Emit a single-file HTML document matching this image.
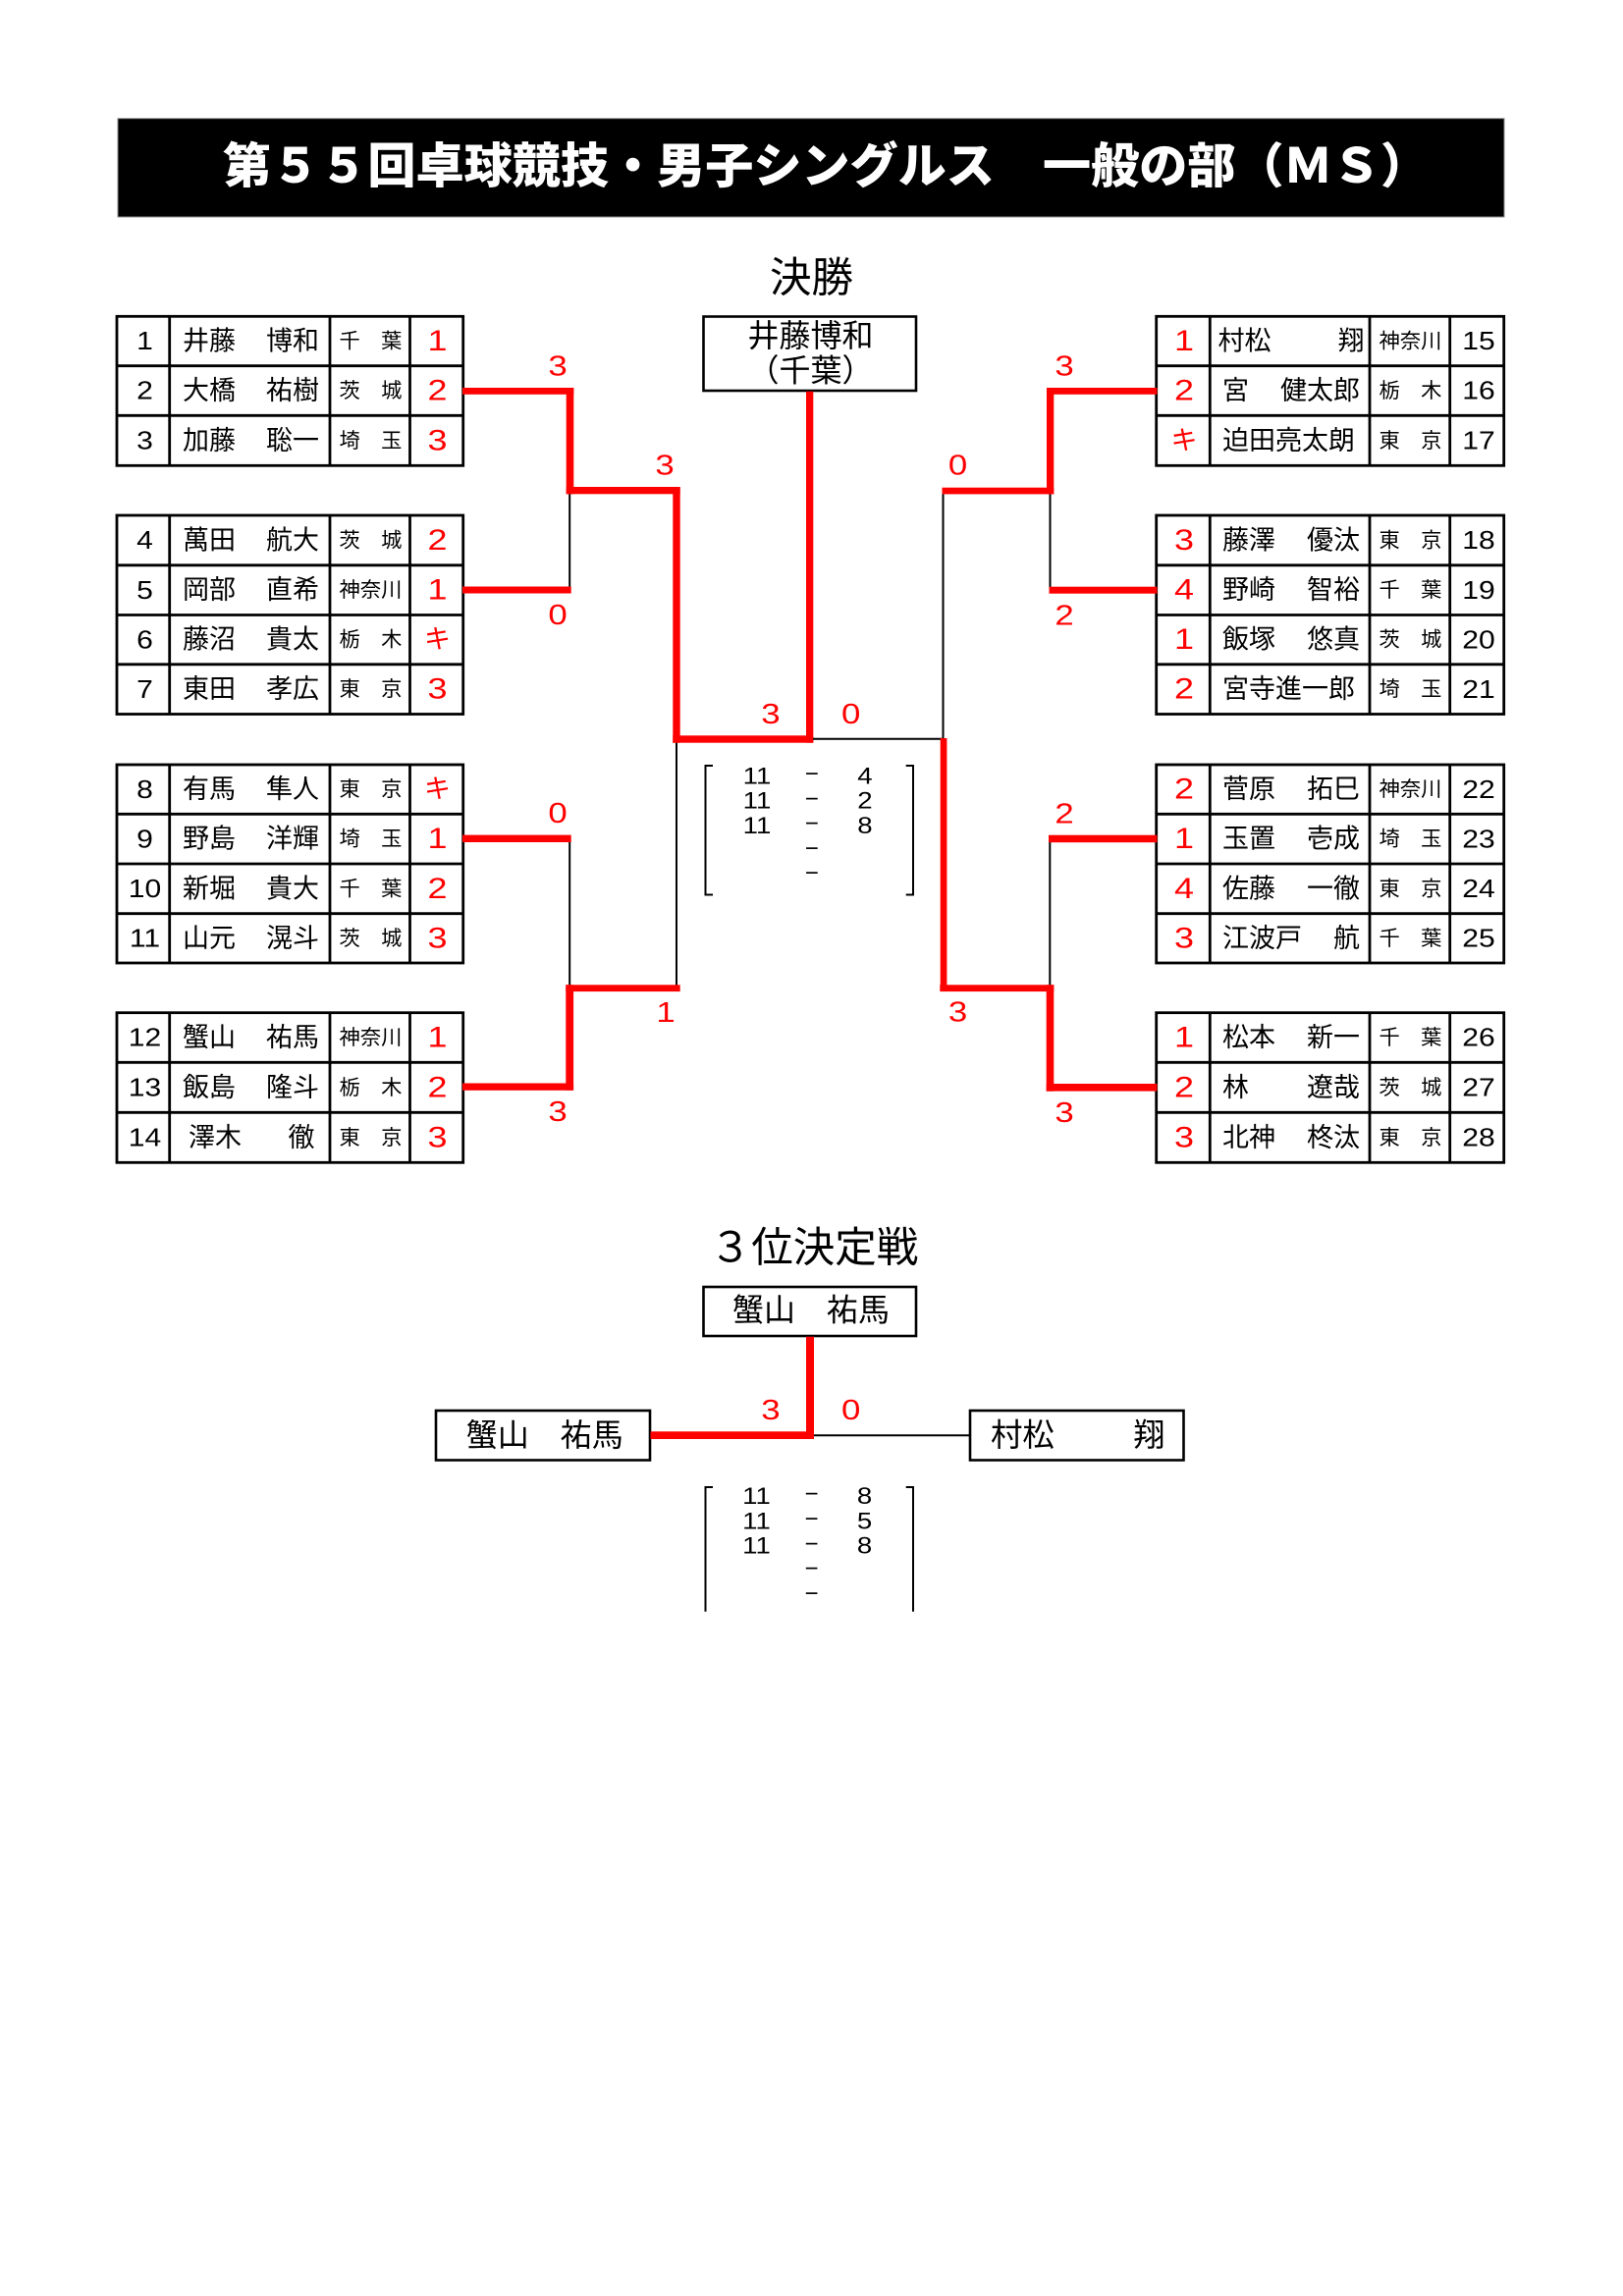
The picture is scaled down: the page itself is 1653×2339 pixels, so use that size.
<!DOCTYPE html>
<html lang="ja">
<head>
<meta charset="utf-8">
<title>第55回卓球競技・男子シングルス 一般の部（MS）</title>
<style>
  html,body{margin:0;padding:0;background:#fff;}
  body{width:1653px;height:2339px;overflow:hidden;}
  svg{display:block;}
  text{dominant-baseline:central;}
  .n{font-family:"Liberation Sans",sans-serif;font-size:25.5px;fill:#000;text-anchor:middle;
     transform-box:fill-box;transform-origin:center;transform:scaleX(1.18);}
  .s{font-family:"Liberation Sans",sans-serif;font-size:30px;fill:#f00;text-anchor:middle;
     transform-box:fill-box;transform-origin:center;transform:scaleX(1.2);}
  .l{font-family:"Liberation Sans",sans-serif;font-size:29px;fill:#f00;text-anchor:middle;
     transform-box:fill-box;transform-origin:center;transform:scaleX(1.2);}
  .k{font-family:"Liberation Sans","Noto Sans CJK JP",sans-serif;font-size:27px;fill:#f00;text-anchor:middle;}
  .nm{font-family:"Liberation Sans","Noto Sans CJK JP",sans-serif;font-size:27px;fill:#000;}
  .e{text-anchor:end;}
  .p{font-family:"Liberation Sans","Noto Sans CJK JP",sans-serif;font-size:21.3px;fill:#000;text-anchor:middle;}
  .bx{font-family:"Liberation Sans","Noto Sans CJK JP",sans-serif;font-size:32px;fill:#000;text-anchor:middle;}
  .bn{font-family:"Liberation Sans","Noto Sans CJK JP",sans-serif;font-size:32.4px;fill:#000;}
  .hd{font-family:"Liberation Sans","Noto Sans CJK JP",sans-serif;font-size:42.5px;fill:#000;text-anchor:middle;}
  .sc{font-family:"Liberation Sans",sans-serif;font-size:24px;fill:#000;text-anchor:middle;
      transform-box:fill-box;transform-origin:center;transform:scaleX(1.15);}
  .ds{font-family:"Liberation Sans",sans-serif;font-size:24px;fill:#000;text-anchor:middle;}
  .title{font-family:"Liberation Sans","Noto Sans CJK JP",sans-serif;font-size:49px;font-weight:900;fill:#fff;}
  .tb{fill:none;stroke:#000;stroke-width:2.8;}
  .r{fill:#f00;}
  .bk{stroke:#000;stroke-width:2;fill:none;}
</style>
</head>
<body>
<svg width="1653" height="2339" viewBox="0 0 1653 2339" xmlns="http://www.w3.org/2000/svg">
  <rect x="0" y="0" width="1653" height="2339" fill="#fff"/>

  <!-- Title bar -->
  <rect x="120" y="120.7" width="1412" height="100.3" fill="#000" stroke="#888" stroke-width="1"/>
  <text class="title" x="227" y="170" textLength="1228" lengthAdjust="spacingAndGlyphs">第５５回卓球競技・男子シングルス　一般の部（ＭＳ）</text>

  <!-- 決勝 heading & box -->
  <text class="hd" x="826.5" y="284">決勝</text>
  <rect x="716.5" y="322.5" width="216.5" height="75.5" fill="#fff" stroke="#000" stroke-width="2.6"/>
  <text class="bx" x="825.5" y="342">井藤博和</text>
  <text class="bx" x="825.5" y="377.5">（千葉）</text>

  <!-- ===== LEFT TABLES ===== -->
  <g class="tb">
    <rect x="119" y="322.3" width="352.7" height="152"/>
    <line x1="119" y1="372.7" x2="471.7" y2="372.7"/>
    <line x1="119" y1="423.3" x2="471.7" y2="423.3"/>
    <line x1="172.7" y1="322.3" x2="172.7" y2="474.3"/>
    <line x1="336" y1="322.3" x2="336" y2="474.3"/>
    <line x1="417.5" y1="322.3" x2="417.5" y2="474.3"/>

    <rect x="119" y="525" width="352.7" height="202.5"/>
    <line x1="119" y1="575.8" x2="471.7" y2="575.8"/>
    <line x1="119" y1="626.5" x2="471.7" y2="626.5"/>
    <line x1="119" y1="676.8" x2="471.7" y2="676.8"/>
    <line x1="172.7" y1="525" x2="172.7" y2="727.5"/>
    <line x1="336" y1="525" x2="336" y2="727.5"/>
    <line x1="417.5" y1="525" x2="417.5" y2="727.5"/>

    <rect x="119" y="779" width="352.7" height="202"/>
    <line x1="119" y1="829.3" x2="471.7" y2="829.3"/>
    <line x1="119" y1="880" x2="471.7" y2="880"/>
    <line x1="119" y1="930.7" x2="471.7" y2="930.7"/>
    <line x1="172.7" y1="779" x2="172.7" y2="981"/>
    <line x1="336" y1="779" x2="336" y2="981"/>
    <line x1="417.5" y1="779" x2="417.5" y2="981"/>

    <rect x="119" y="1031.7" width="352.7" height="152.6"/>
    <line x1="119" y1="1082.3" x2="471.7" y2="1082.3"/>
    <line x1="119" y1="1133.3" x2="471.7" y2="1133.3"/>
    <line x1="172.7" y1="1031.7" x2="172.7" y2="1184.3"/>
    <line x1="336" y1="1031.7" x2="336" y2="1184.3"/>
    <line x1="417.5" y1="1031.7" x2="417.5" y2="1184.3"/>
  </g>

  <!-- ===== RIGHT TABLES ===== -->
  <g class="tb">
    <rect x="1177.7" y="322.3" width="354" height="152"/>
    <line x1="1177.7" y1="372.7" x2="1531.7" y2="372.7"/>
    <line x1="1177.7" y1="423.3" x2="1531.7" y2="423.3"/>
    <line x1="1232.3" y1="322.3" x2="1232.3" y2="474.3"/>
    <line x1="1395" y1="322.3" x2="1395" y2="474.3"/>
    <line x1="1476.7" y1="322.3" x2="1476.7" y2="474.3"/>

    <rect x="1177.7" y="525" width="354" height="202.5"/>
    <line x1="1177.7" y1="575.8" x2="1531.7" y2="575.8"/>
    <line x1="1177.7" y1="626.5" x2="1531.7" y2="626.5"/>
    <line x1="1177.7" y1="676.8" x2="1531.7" y2="676.8"/>
    <line x1="1232.3" y1="525" x2="1232.3" y2="727.5"/>
    <line x1="1395" y1="525" x2="1395" y2="727.5"/>
    <line x1="1476.7" y1="525" x2="1476.7" y2="727.5"/>

    <rect x="1177.7" y="779" width="354" height="202"/>
    <line x1="1177.7" y1="829.3" x2="1531.7" y2="829.3"/>
    <line x1="1177.7" y1="880" x2="1531.7" y2="880"/>
    <line x1="1177.7" y1="930.7" x2="1531.7" y2="930.7"/>
    <line x1="1232.3" y1="779" x2="1232.3" y2="981"/>
    <line x1="1395" y1="779" x2="1395" y2="981"/>
    <line x1="1476.7" y1="779" x2="1476.7" y2="981"/>

    <rect x="1177.7" y="1031.7" width="354" height="152.6"/>
    <line x1="1177.7" y1="1082.3" x2="1531.7" y2="1082.3"/>
    <line x1="1177.7" y1="1133.3" x2="1531.7" y2="1133.3"/>
    <line x1="1232.3" y1="1031.7" x2="1232.3" y2="1184.3"/>
    <line x1="1395" y1="1031.7" x2="1395" y2="1184.3"/>
    <line x1="1476.7" y1="1031.7" x2="1476.7" y2="1184.3"/>
  </g>

  <!-- ===== LEFT TABLE TEXT ===== -->
  <text class="n" x="147.5" y="347.5">1</text><text class="nm" x="186" y="347.5">井藤</text><text class="nm e" x="325" y="347.5">博和</text><text class="p" x="377.5" y="347.5">千　葉</text><text class="s" x="445.5" y="347.5">1</text>
  <text class="n" x="147.5" y="398">2</text><text class="nm" x="186" y="398">大橋</text><text class="nm e" x="325" y="398">祐樹</text><text class="p" x="377.5" y="398">茨　城</text><text class="s" x="445.5" y="398">2</text>
  <text class="n" x="147.5" y="448.8">3</text><text class="nm" x="186" y="448.8">加藤</text><text class="nm e" x="325" y="448.8">聡一</text><text class="p" x="377.5" y="448.8">埼　玉</text><text class="s" x="445.5" y="448.8">3</text>

  <text class="n" x="147.5" y="550.4">4</text><text class="nm" x="186" y="550.4">萬田</text><text class="nm e" x="325" y="550.4">航大</text><text class="p" x="377.5" y="550.4">茨　城</text><text class="s" x="445.5" y="550.4">2</text>
  <text class="n" x="147.5" y="601.2">5</text><text class="nm" x="186" y="601.2">岡部</text><text class="nm e" x="325" y="601.2">直希</text><text class="p" x="377.5" y="601.2">神奈川</text><text class="s" x="445.5" y="601.2">1</text>
  <text class="n" x="147.5" y="651.7">6</text><text class="nm" x="186" y="651.7">藤沼</text><text class="nm e" x="325" y="651.7">貴太</text><text class="p" x="377.5" y="651.7">栃　木</text><text class="k" x="445.5" y="651.7">キ</text>
  <text class="n" x="147.5" y="702.2">7</text><text class="nm" x="186" y="702.2">東田</text><text class="nm e" x="325" y="702.2">孝広</text><text class="p" x="377.5" y="702.2">東　京</text><text class="s" x="445.5" y="702.2">3</text>

  <text class="n" x="147.5" y="804.2">8</text><text class="nm" x="186" y="804.2">有馬</text><text class="nm e" x="325" y="804.2">隼人</text><text class="p" x="377.5" y="804.2">東　京</text><text class="k" x="445.5" y="804.2">キ</text>
  <text class="n" x="147.5" y="854.7">9</text><text class="nm" x="186" y="854.7">野島</text><text class="nm e" x="325" y="854.7">洋輝</text><text class="p" x="377.5" y="854.7">埼　玉</text><text class="s" x="445.5" y="854.7">1</text>
  <text class="n" x="147.5" y="905.3">10</text><text class="nm" x="186" y="905.3">新堀</text><text class="nm e" x="325" y="905.3">貴大</text><text class="p" x="377.5" y="905.3">千　葉</text><text class="s" x="445.5" y="905.3">2</text>
  <text class="n" x="147.5" y="955.8">11</text><text class="nm" x="186" y="955.8">山元</text><text class="nm e" x="325" y="955.8">滉斗</text><text class="p" x="377.5" y="955.8">茨　城</text><text class="s" x="445.5" y="955.8">3</text>

  <text class="n" x="147.5" y="1057">12</text><text class="nm" x="186" y="1057">蟹山</text><text class="nm e" x="325" y="1057">祐馬</text><text class="p" x="377.5" y="1057">神奈川</text><text class="s" x="445.5" y="1057">1</text>
  <text class="n" x="147.5" y="1107.8">13</text><text class="nm" x="186" y="1107.8">飯島</text><text class="nm e" x="325" y="1107.8">隆斗</text><text class="p" x="377.5" y="1107.8">栃　木</text><text class="s" x="445.5" y="1107.8">2</text>
  <text class="n" x="147.5" y="1158.8">14</text><text class="nm" x="192" y="1158.8">澤木</text><text class="nm e" x="320.5" y="1158.8">徹</text><text class="p" x="377.5" y="1158.8">東　京</text><text class="s" x="445.5" y="1158.8">3</text>

  <!-- ===== RIGHT TABLE TEXT ===== -->
  <text class="s" x="1206" y="347.5">1</text><text class="nm" x="1240.5" y="347.5">村松</text><text class="nm e" x="1389.5" y="347.5">翔</text><text class="p" x="1436.5" y="347.5">神奈川</text><text class="n" x="1506" y="347.5">15</text>
  <text class="s" x="1206" y="398">2</text><text class="nm" x="1245" y="398">宮</text><text class="nm e" x="1385" y="398">健太郎</text><text class="p" x="1436.5" y="398">栃　木</text><text class="n" x="1506" y="398">16</text>
  <text class="k" x="1206" y="448.8">キ</text><text class="nm" x="1245" y="448.8">迫田亮太朗</text><text class="p" x="1436.5" y="448.8">東　京</text><text class="n" x="1506" y="448.8">17</text>

  <text class="s" x="1206" y="550.4">3</text><text class="nm" x="1245" y="550.4">藤澤</text><text class="nm e" x="1385" y="550.4">優汰</text><text class="p" x="1436.5" y="550.4">東　京</text><text class="n" x="1506" y="550.4">18</text>
  <text class="s" x="1206" y="601.2">4</text><text class="nm" x="1245" y="601.2">野崎</text><text class="nm e" x="1385" y="601.2">智裕</text><text class="p" x="1436.5" y="601.2">千　葉</text><text class="n" x="1506" y="601.2">19</text>
  <text class="s" x="1206" y="651.7">1</text><text class="nm" x="1245" y="651.7">飯塚</text><text class="nm e" x="1385" y="651.7">悠真</text><text class="p" x="1436.5" y="651.7">茨　城</text><text class="n" x="1506" y="651.7">20</text>
  <text class="s" x="1206" y="702.2">2</text><text class="nm" x="1245" y="702.2">宮寺進一郎</text><text class="p" x="1436.5" y="702.2">埼　玉</text><text class="n" x="1506" y="702.2">21</text>

  <text class="s" x="1206" y="804.2">2</text><text class="nm" x="1245" y="804.2">菅原</text><text class="nm e" x="1385" y="804.2">拓巳</text><text class="p" x="1436.5" y="804.2">神奈川</text><text class="n" x="1506" y="804.2">22</text>
  <text class="s" x="1206" y="854.7">1</text><text class="nm" x="1245" y="854.7">玉置</text><text class="nm e" x="1385" y="854.7">壱成</text><text class="p" x="1436.5" y="854.7">埼　玉</text><text class="n" x="1506" y="854.7">23</text>
  <text class="s" x="1206" y="905.3">4</text><text class="nm" x="1245" y="905.3">佐藤</text><text class="nm e" x="1385" y="905.3">一徹</text><text class="p" x="1436.5" y="905.3">東　京</text><text class="n" x="1506" y="905.3">24</text>
  <text class="s" x="1206" y="955.8">3</text><text class="nm" x="1245" y="955.8">江波戸</text><text class="nm e" x="1385" y="955.8">航</text><text class="p" x="1436.5" y="955.8">千　葉</text><text class="n" x="1506" y="955.8">25</text>

  <text class="s" x="1206" y="1057">1</text><text class="nm" x="1245" y="1057">松本</text><text class="nm e" x="1385" y="1057">新一</text><text class="p" x="1436.5" y="1057">千　葉</text><text class="n" x="1506" y="1057">26</text>
  <text class="s" x="1206" y="1107.8">2</text><text class="nm" x="1245" y="1107.8">林</text><text class="nm e" x="1385" y="1107.8">遼哉</text><text class="p" x="1436.5" y="1107.8">茨　城</text><text class="n" x="1506" y="1107.8">27</text>
  <text class="s" x="1206" y="1158.8">3</text><text class="nm" x="1245" y="1158.8">北神</text><text class="nm e" x="1385" y="1158.8">柊汰</text><text class="p" x="1436.5" y="1158.8">東　京</text><text class="n" x="1506" y="1158.8">28</text>

  <!-- ===== BRACKET LINES LEFT ===== -->
  <line class="bk" x1="580.2" y1="503" x2="580.2" y2="601"/>
  <line class="bk" x1="580.2" y1="854" x2="580.2" y2="1004"/>
  <line class="bk" x1="689" y1="756" x2="689" y2="1004"/>
  <rect class="r" x="471" y="395" width="113.3" height="6.8"/>
  <rect class="r" x="576.7" y="395" width="7.6" height="108.3"/>
  <rect class="r" x="471" y="597.5" width="110.7" height="7"/>
  <rect class="r" x="576.7" y="496" width="116" height="7.3"/>
  <rect class="r" x="685.3" y="496" width="7.4" height="260.7"/>
  <rect class="r" x="685.3" y="749.3" width="143" height="7.4"/>
  <rect class="r" x="821" y="398.7" width="7.3" height="358"/>
  <rect class="r" x="471" y="850.6" width="110.7" height="7.4"/>
  <rect class="r" x="576.3" y="1003.3" width="116.4" height="6.8"/>
  <rect class="r" x="576.3" y="1003.3" width="7.8" height="107.4"/>
  <rect class="r" x="471" y="1103.5" width="113.1" height="7.3"/>

  <!-- ===== BRACKET LINES RIGHT ===== -->
  <line class="bk" x1="828" y1="752.7" x2="961" y2="752.7"/>
  <line class="bk" x1="960.5" y1="503" x2="960.5" y2="753"/>
  <line class="bk" x1="1069.5" y1="503" x2="1069.5" y2="601"/>
  <line class="bk" x1="1069.3" y1="854" x2="1069.3" y2="1004"/>
  <rect class="r" x="957.7" y="752" width="6.7" height="258"/>
  <rect class="r" x="959.5" y="496.7" width="113.8" height="6.7"/>
  <rect class="r" x="1066" y="395" width="7.3" height="108.3"/>
  <rect class="r" x="1066" y="395" width="112.5" height="6.8"/>
  <rect class="r" x="1068.5" y="597.7" width="110" height="7"/>
  <rect class="r" x="1068" y="850.7" width="110.5" height="7.5"/>
  <rect class="r" x="957.3" y="1003.3" width="116" height="6.8"/>
  <rect class="r" x="1065.7" y="1003.3" width="7.6" height="108.4"/>
  <rect class="r" x="1065.7" y="1104" width="112.8" height="7.6"/>

  <!-- ===== BRACKET SCORE LABELS ===== -->
  <text class="l" x="568" y="372.5">3</text>
  <text class="l" x="568" y="626">0</text>
  <text class="l" x="677" y="473.5">3</text>
  <text class="l" x="568" y="828">0</text>
  <text class="l" x="568" y="1132">3</text>
  <text class="l" x="678" y="1031">1</text>
  <text class="l" x="785" y="727">3</text>
  <text class="l" x="866.7" y="727">0</text>

  <text class="l" x="1084" y="372.5">3</text>
  <text class="l" x="1084" y="626.5">2</text>
  <text class="l" x="975.5" y="473.5">0</text>
  <text class="l" x="1084" y="828.5">2</text>
  <text class="l" x="975.5" y="1030.5">3</text>
  <text class="l" x="1084" y="1133">3</text>

  <!-- ===== FINAL GAME SCORES ===== -->
  <polyline class="bk" points="726,780 718.5,780 718.5,911.5 726,911.5"/>
  <polyline class="bk" points="922.7,780 930,780 930,911.5 922.7,911.5"/>
  <text class="sc" x="771" y="791">11</text><text class="ds" x="826.7" y="788.5">−</text><text class="sc" x="881" y="791">4</text>
  <text class="sc" x="771" y="816.3">11</text><text class="ds" x="826.7" y="813.8">−</text><text class="sc" x="881" y="816.3">2</text>
  <text class="sc" x="771" y="841.6">11</text><text class="ds" x="826.7" y="839.1">−</text><text class="sc" x="881" y="841.6">8</text>
  <text class="ds" x="826.7" y="864.4">−</text>
  <text class="ds" x="826.7" y="889.7">−</text>

  <!-- ===== 3rd PLACE ===== -->
  <text class="hd" x="829" y="1272">３位決定戦</text>
  <rect x="716.5" y="1311" width="216.5" height="50" fill="#fff" stroke="#000" stroke-width="2.6"/>
  <text class="bx" x="826" y="1334.5">蟹山　祐馬</text>

  <rect x="444" y="1437" width="218" height="50.5" fill="#fff" stroke="#000" stroke-width="2.6"/>
  <text class="bx" x="554.7" y="1462">蟹山　祐馬</text>

  <rect x="988" y="1437" width="217.5" height="50.5" fill="#fff" stroke="#000" stroke-width="2.6"/>
  <text class="bn" x="1009" y="1462">村松</text>
  <text class="bn e" x="1186.5" y="1462">翔</text>

  <rect class="r" x="662.5" y="1458.3" width="166.5" height="7.7"/>
  <rect class="r" x="821" y="1361.7" width="8" height="104.3"/>
  <line class="bk" x1="829" y1="1462.2" x2="987.5" y2="1462.2"/>
  <text class="l" x="785" y="1436">3</text>
  <text class="l" x="866.7" y="1436">0</text>

  <polyline class="bk" points="726,1515 718.5,1515 718.5,1641.7"/>
  <polyline class="bk" points="922.7,1515 930,1515 930,1641.7"/>
  <text class="sc" x="770.5" y="1524.5">11</text><text class="ds" x="826.5" y="1522">−</text><text class="sc" x="880.5" y="1524.5">8</text>
  <text class="sc" x="770.5" y="1549.9">11</text><text class="ds" x="826.5" y="1547.4">−</text><text class="sc" x="880.5" y="1549.9">5</text>
  <text class="sc" x="770.5" y="1575.3">11</text><text class="ds" x="826.5" y="1572.8">−</text><text class="sc" x="880.5" y="1575.3">8</text>
  <text class="ds" x="826.5" y="1598.2">−</text>
  <text class="ds" x="826.5" y="1623.6">−</text>
</svg>
</body>
</html>
